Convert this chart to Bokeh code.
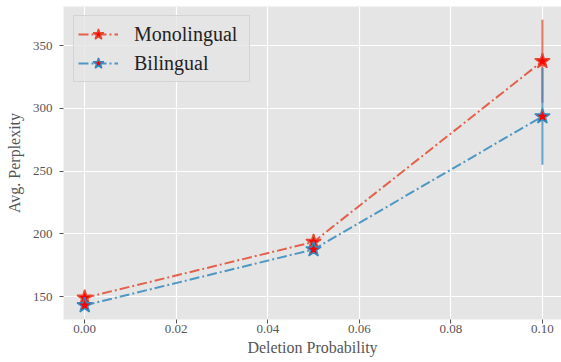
from bokeh.plotting import figure
from bokeh.models import (ColumnDataSource, Range1d, FixedTicker, PrintfTickFormatter,
                          Legend, LegendItem)
from bokeh.embed import file_html
from bokeh.resources import INLINE

# ---- data ----
deletion_prob = [0.00, 0.05, 0.10]
mono_ppl = [149.0, 193.5, 337.5]
mono_err = [2.0, 5.0, 33.0]
bi_ppl = [143.0, 187.5, 293.5]
bi_err = [2.0, 3.0, 38.5]
series_names = ["Monolingual", "Bilingual"]
x_ticks = [0.00, 0.02, 0.04, 0.06, 0.08, 0.10]
y_ticks = [150, 200, 250, 300, 350]
x_label = "Deletion Probability"
y_label = "Avg. Perplexity"

RED = "#E24A33"
BLUE = "#348ABD"
FONT = "Liberation Serif"

p = figure(width=561, height=362, output_backend="svg", toolbar_location=None,
           x_range=Range1d(-0.00463, 0.10417), y_range=Range1d(131.7, 381.1),
           min_border_left=63, min_border_right=0, min_border_top=6, min_border_bottom=43)
p.background_fill_color = "#E5E5E5"
p.border_fill_color = "white"
p.outline_line_color = None

for ax in (p.xaxis[0], p.yaxis[0]):
    ax.axis_line_color = None
    ax.major_tick_line_color = "#555555"
    ax.major_tick_in = 0
    ax.major_tick_out = 4
    ax.minor_tick_line_color = None
    ax.major_label_text_font = FONT
    ax.major_label_text_font_size = "13px"
    ax.major_label_text_color = "#555555"
    ax.axis_label_text_font = FONT
    ax.axis_label_text_font_size = "16px"
    ax.axis_label_text_font_style = "normal"
    ax.axis_label_text_color = "#555555"

p.xaxis[0].ticker = FixedTicker(ticks=x_ticks)
p.xaxis[0].formatter = PrintfTickFormatter(format="%.2f")
p.xaxis[0].major_label_standoff = 1
p.xaxis[0].axis_label = x_label
p.xaxis[0].axis_label_standoff = 3
p.yaxis[0].ticker = FixedTicker(ticks=y_ticks)
p.yaxis[0].major_label_standoff = 7
p.yaxis[0].axis_label = y_label
p.yaxis[0].axis_label_standoff = 7

p.xgrid.ticker = FixedTicker(ticks=x_ticks)
p.ygrid.ticker = FixedTicker(ticks=y_ticks)
for g in (p.xgrid[0], p.ygrid[0]):
    g.grid_line_color = "white"
    g.grid_line_width = 1.2

items = []
for name, vals, errs, col in [(series_names[0], mono_ppl, mono_err, RED),
                              (series_names[1], bi_ppl, bi_err, BLUE)]:
    src = ColumnDataSource(dict(
        x=deletion_prob, y=vals,
        lo=[v - e for v, e in zip(vals, errs)],
        hi=[v + e for v, e in zip(vals, errs)]))
    ln = p.line("x", "y", source=src, line_color=col, line_width=2,
                line_dash="10 3 2 3", line_alpha=0.85)
    p.segment(x0="x", y0="lo", x1="x", y1="hi", source=src,
              line_color=col, line_width=2, line_alpha=0.75)
    bar_leg = p.scatter(x=[], y=[], marker="cross", line_color=col,
                        line_width=2, line_alpha=0.75)
    st = p.scatter("x", "y", source=src, marker="star", size=16,
                   fill_color="#FF0000", line_color=col, line_width=1.5)
    items.append(LegendItem(label=name, renderers=[ln, bar_leg, st]))

legend = Legend(items=items, location=(10, 237),
                label_text_font=FONT, label_text_font_size="20px",
                label_text_color="#222222",
                glyph_width=40, glyph_height=28, spacing=1, padding=4,
                label_standoff=16, label_width=111, label_height=20,
                background_fill_color="#E5E5E5", background_fill_alpha=0.8,
                border_line_color="#D0D0D0", border_line_alpha=0.8)
p.add_layout(legend)

open("out.html", "w").write(file_html(p, INLINE))
